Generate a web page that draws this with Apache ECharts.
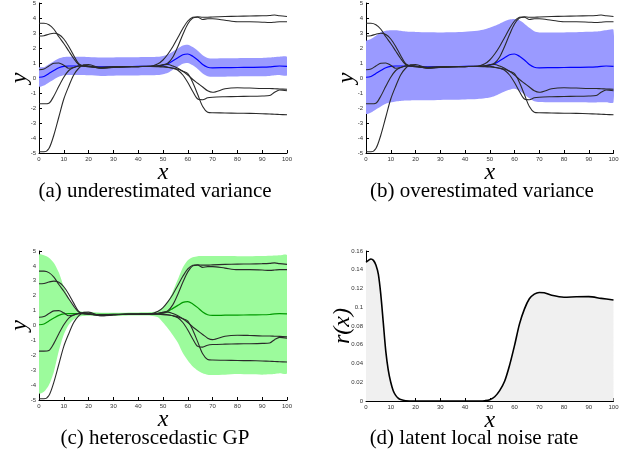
<!DOCTYPE html>
<html><head><meta charset="utf-8">
<script src="https://cdn.jsdelivr.net/npm/echarts@6/dist/echarts.min.js"></script>
<style>html,body{margin:0;padding:0;background:#fff}#c{width:629px;height:459px}</style>
</head><body><div id="c"></div>
<script>
const xs = [0,2,4,6,8,10,12,14,16,18,20,25,30,35,40,45,48,50,52,54,56,58,60,62,64,66,68,70,75,80,85,90,93,95,97,100];
const path1 = [3.65,3.65,3.55,3.25,2.75,2.3,1.8,1.3,0.9,0.8,0.75,0.72,0.75,0.76,0.77,0.78,0.95,1.2,1.6,2.1,2.7,3.3,3.8,4.05,4.08,4.05,4.05,4.07,4.1,4.12,4.13,4.15,4.17,4.2,4.15,4.1];
const path2 = [2.8,2.82,2.92,2.98,2.9,2.6,2.1,1.5,0.95,0.8,0.78,0.7,0.74,0.76,0.77,0.78,0.8,0.88,1.0,1.4,2.1,2.9,3.6,4.0,4.05,3.9,3.95,3.95,3.85,3.75,3.75,3.72,3.7,3.72,3.75,3.75];
const path3 = [0.55,0.6,0.8,0.98,1.0,0.85,0.65,0.7,0.8,0.85,0.8,0.65,0.7,0.75,0.76,0.78,0.82,0.88,0.9,0.8,0.65,0.45,0.2,-0.1,-0.35,-0.6,-0.85,-0.95,-0.72,-0.65,-0.67,-0.7,-0.7,-0.72,-0.73,-0.75];
const path4 = [-1.72,-1.72,-1.68,-1.2,-0.55,0.05,0.5,0.7,0.8,0.78,0.76,0.68,0.72,0.75,0.76,0.77,0.77,0.78,0.72,0.65,0.52,0.2,-0.3,-0.9,-1.4,-1.45,-1.32,-1.28,-1.25,-1.23,-1.22,-1.2,-1.17,-0.95,-0.8,-0.85];
const path5 = [-4.92,-4.92,-4.7,-3.8,-2.6,-1.4,-0.55,0.2,0.65,0.88,0.9,0.65,0.72,0.75,0.76,0.77,0.75,0.73,0.7,0.65,0.58,0.45,0.3,-0.3,-1.1,-1.9,-2.28,-2.32,-2.33,-2.35,-2.36,-2.38,-2.4,-2.42,-2.43,-2.45];
const meanY = [0.05,0.1,0.3,0.5,0.68,0.78,0.8,0.8,0.8,0.8,0.78,0.74,0.75,0.76,0.77,0.78,0.8,0.85,0.95,1.15,1.35,1.55,1.6,1.45,1.2,0.9,0.72,0.68,0.69,0.7,0.71,0.72,0.74,0.78,0.8,0.78];
const upperA = [0.68,0.72,0.92,1.12,1.3,1.4,1.42,1.42,1.42,1.42,1.4,1.36,1.37,1.38,1.39,1.4,1.42,1.47,1.57,1.77,1.97,2.17,2.22,2.07,1.82,1.52,1.34,1.3,1.31,1.32,1.33,1.34,1.36,1.4,1.42,1.4];
const lowerA = [-0.57,-0.5,-0.3,-0.1,0.08,0.18,0.2,0.2,0.2,0.2,0.18,0.14,0.15,0.16,0.17,0.18,0.2,0.25,0.35,0.55,0.75,0.95,1.0,0.85,0.6,0.3,0.12,0.08,0.09,0.1,0.11,0.12,0.14,0.18,0.2,0.18];
const upperB = [2.45,2.6,2.82,3.05,3.15,3.18,3.19,3.15,3.1,3.08,3.07,3.05,3.04,3.05,3.08,3.15,3.25,3.35,3.48,3.62,3.78,3.9,3.93,3.85,3.62,3.35,3.12,3.04,3.03,3.04,3.05,3.08,3.1,3.14,3.18,3.2];
const lowerB = [-2.38,-2.3,-2.1,-1.9,-1.72,-1.62,-1.56,-1.53,-1.5,-1.5,-1.49,-1.48,-1.46,-1.45,-1.43,-1.4,-1.35,-1.3,-1.2,-1.05,-0.9,-0.78,-0.72,-0.85,-1.1,-1.35,-1.55,-1.6,-1.62,-1.62,-1.62,-1.63,-1.63,-1.62,-1.62,-1.62];
const upperC = [4.75,4.72,4.55,4.2,3.55,2.6,1.85,1.25,0.98,0.92,0.9,0.86,0.85,0.86,0.87,0.9,0.95,1.2,1.6,2.3,3.1,3.9,4.38,4.58,4.65,4.66,4.66,4.66,4.66,4.65,4.65,4.66,4.68,4.7,4.72,4.72];
const lowerC = [-4.55,-4.45,-4.0,-3.1,-1.7,-0.6,0.05,0.4,0.58,0.63,0.65,0.63,0.64,0.66,0.67,0.66,0.55,0.2,-0.2,-0.65,-1.15,-1.85,-2.35,-2.75,-3.02,-3.2,-3.3,-3.32,-3.3,-3.25,-3.28,-3.3,-3.28,-3.25,-3.2,-3.2];
const xd = [0,1,2,3,4,5,6,7,8,9,10,11,12,13,14,16,20,30,40,46,48,50,52,54,56,58,60,62,64,66,68,70,72,75,80,85,90,95,100];
const rd = [0.148,0.150,0.1515,0.150,0.145,0.135,0.113,0.083,0.053,0.033,0.02,0.011,0.006,0.003,0.0015,0.0003,0,0,0,0,0.0003,0.0013,0.0045,0.011,0.021,0.038,0.059,0.082,0.098,0.109,0.114,0.1158,0.1155,0.1128,0.1107,0.1112,0.1113,0.1095,0.1078];
const captions = ['(a) underestimated variance','(b) overestimated variance','(c) heteroscedastic GP','(d) latent local noise rate'];

const serif = "'Liberation Serif','Times New Roman',serif";
const zip = (a, b) => a.map((v, i) => [v, b[i]]);
const grids = [
  {left: 39, top: 2.5, width: 248, height: 150.5},
  {left: 366, top: 2.5, width: 247.5, height: 150.5},
  {left: 39, top: 251, width: 248, height: 149},
  {left: 366, top: 251, width: 247.5, height: 150}
];
const axisCommon = {
  axisLine: {show: true, onZero: false, lineStyle: {color: '#000', width: 1}},
  axisTick: {show: true, inside: true, length: 3, lineStyle: {color: '#000'}},
  splitLine: {show: false},
  axisLabel: {fontSize: 6, color: '#333', fontFamily: 'Liberation Sans', margin: 3},
  nameMoveOverlap: false
};
const xAxes = grids.map((g, i) => Object.assign({}, axisCommon, {
  type: 'value', gridIndex: i, min: 0, max: 100, interval: 10,
  name: 'x', nameLocation: 'middle', nameGap: 8,
  nameTextStyle: {fontFamily: serif, fontStyle: 'italic', fontSize: 24, color: '#000', verticalAlign: 'top'}
}));
const yAxes = grids.map((g, i) => Object.assign({}, axisCommon, {
  type: 'value', gridIndex: i,
  min: i === 3 ? 0 : -5, max: i === 3 ? 0.16 : 5, interval: i === 3 ? 0.02 : 1,
  name: i === 3 ? 'r(x)' : 'y', nameLocation: 'middle', nameGap: i === 3 ? 11 : 7,
  nameTextStyle: {fontFamily: serif, fontStyle: 'italic', fontSize: 24, color: '#000'}
}));

const series = [];
function band(idx, lower, upper, color) {
  series.push({
    type: 'custom', xAxisIndex: idx, yAxisIndex: idx, data: [[0, 0]], silent: true, z: 1, clip: true,
    renderItem: function (params, api) {
      const pts = [];
      for (let k = 0; k < xs.length; k++) pts.push(api.coord([xs[k], upper[k]]));
      for (let k = xs.length - 1; k >= 0; k--) pts.push(api.coord([xs[k], lower[k]]));
      return {type: 'polygon', shape: {points: pts, smooth: 0.25}, style: {fill: color, stroke: null}};
    }
  });
}
function line(idx, ys, color, w, z) {
  series.push({type: 'line', xAxisIndex: idx, yAxisIndex: idx, data: zip(xs, ys), symbol: 'none', smooth: 0.3,
    lineStyle: {color: color, width: w}, z: z, silent: true});
}
const paths = [path1, path2, path3, path4, path5];
band(0, lowerA, upperA, '#9a9aff');
band(1, lowerB, upperB, '#9a9aff');
band(2, lowerC, upperC, '#9cfb9c');
[0, 1, 2].forEach(i => {
  line(i, meanY, i === 2 ? '#009a00' : '#0000ff', 1.2, 3);
  paths.forEach(p => line(i, p, '#2a2a2a', 1.1, 4));
});
series.push({type: 'line', xAxisIndex: 3, yAxisIndex: 3, data: zip(xd, rd), symbol: 'none', smooth: 0.3,
  lineStyle: {color: '#000', width: 1.6}, areaStyle: {color: '#f0f0f0', opacity: 1}, z: 3, silent: true});

const capPos = [[155, 191], [482, 191], [155, 438], [474, 438]];
const graphic = captions.map((t, i) => ({
  type: 'text', x: capPos[i][0], y: capPos[i][1],
  style: {text: t, font: "21px " + serif, fill: '#000', textAlign: 'center', textVerticalAlign: 'middle'}
}));

const chart = echarts.init(document.getElementById('c'), null, {renderer: 'canvas'});
chart.setOption({
  animation: false,
  grid: grids,
  xAxis: xAxes,
  yAxis: yAxes,
  series: series,
  graphic: graphic
});
</script></body></html>
